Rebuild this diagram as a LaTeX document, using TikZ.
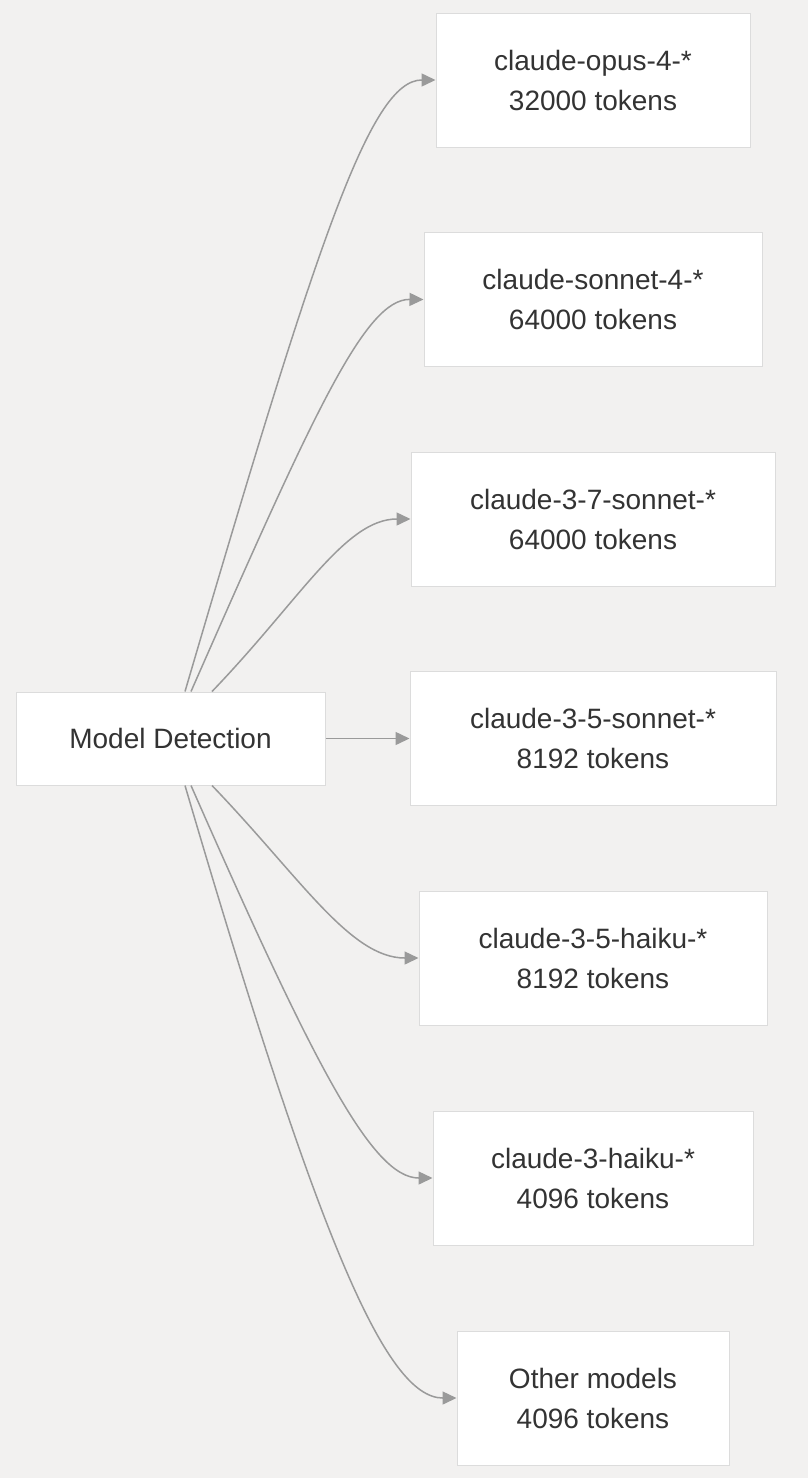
\documentclass[tikz,border=0pt]{standalone}
\usepackage{fontspec}
\setmainfont{Liberation Sans}
\usetikzlibrary{arrows.meta}
\definecolor{bgcol}{HTML}{F2F1F0}
\definecolor{boxline}{HTML}{DCDCDC}
\definecolor{txtcol}{HTML}{333333}
\definecolor{linkcol}{HTML}{9A9A9A}
\tikzset{
  mbox/.style={draw=boxline, line width=0.5pt, fill=white, text=txtcol,
    align=center, inner sep=0pt, minimum height=67pt,
    font=\fontsize{14}{20}\selectfont},
  link/.style={draw=linkcol, line width=0.75pt, -{Triangle[length=7pt,width=6.5pt]}}
}
\begin{document}
\begin{tikzpicture}[x=0.5pt, y=-0.5pt]
\fill[bgcol] (0,0) rectangle (808,1478);
\useasboundingbox (0,0) rectangle (808,1478);
% detector on the left
\node[mbox, minimum width=154.5pt, minimum height=46.5pt] (det) at (170.5,738.5){Model Detection};
% token limits per model family
\node[mbox, minimum width=157pt] (opus4) at (593,80){claude-opus-4-*\\32000 tokens};
\node[mbox, minimum width=169pt] (sonnet4) at (593,299.5){claude-sonnet-4-*\\64000 tokens};
\node[mbox, minimum width=182pt] (sonnet37) at (593,519){claude-3-7-sonnet-*\\64000 tokens};
\node[mbox, minimum width=183pt] (sonnet35) at (593,738.5){claude-3-5-sonnet-*\\8192 tokens};
\node[mbox, minimum width=174pt] (haiku35) at (593,958){claude-3-5-haiku-*\\8192 tokens};
\node[mbox, minimum width=160pt] (haiku3) at (593,1178){claude-3-haiku-*\\4096 tokens};
\node[mbox, minimum width=136pt] (other) at (593,1398){Other models\\4096 tokens};
% links
\draw[link] ([xshift=7.25pt]det.north) .. controls (317,242) and (370,80) .. (opus4.west);
\draw[link] ([xshift=10.25pt]det.north) .. controls (314,412) and (365,299) .. (sonnet4.west);
\draw[link] ([xshift=20.75pt]det.north) .. controls (300,600) and (345,519) .. (sonnet37.west);
\draw[link] (det.east) -- (sonnet35.west);
\draw[link] ([xshift=20.75pt]det.south) .. controls (300,877) and (350,958) .. (haiku35.west);
\draw[link] ([xshift=10.25pt]det.south) .. controls (314,1065) and (372,1178) .. (haiku3.west);
\draw[link] ([xshift=7.25pt]det.south) .. controls (317,1235) and (385,1398) .. (other.west);
\end{tikzpicture}
\end{document}
